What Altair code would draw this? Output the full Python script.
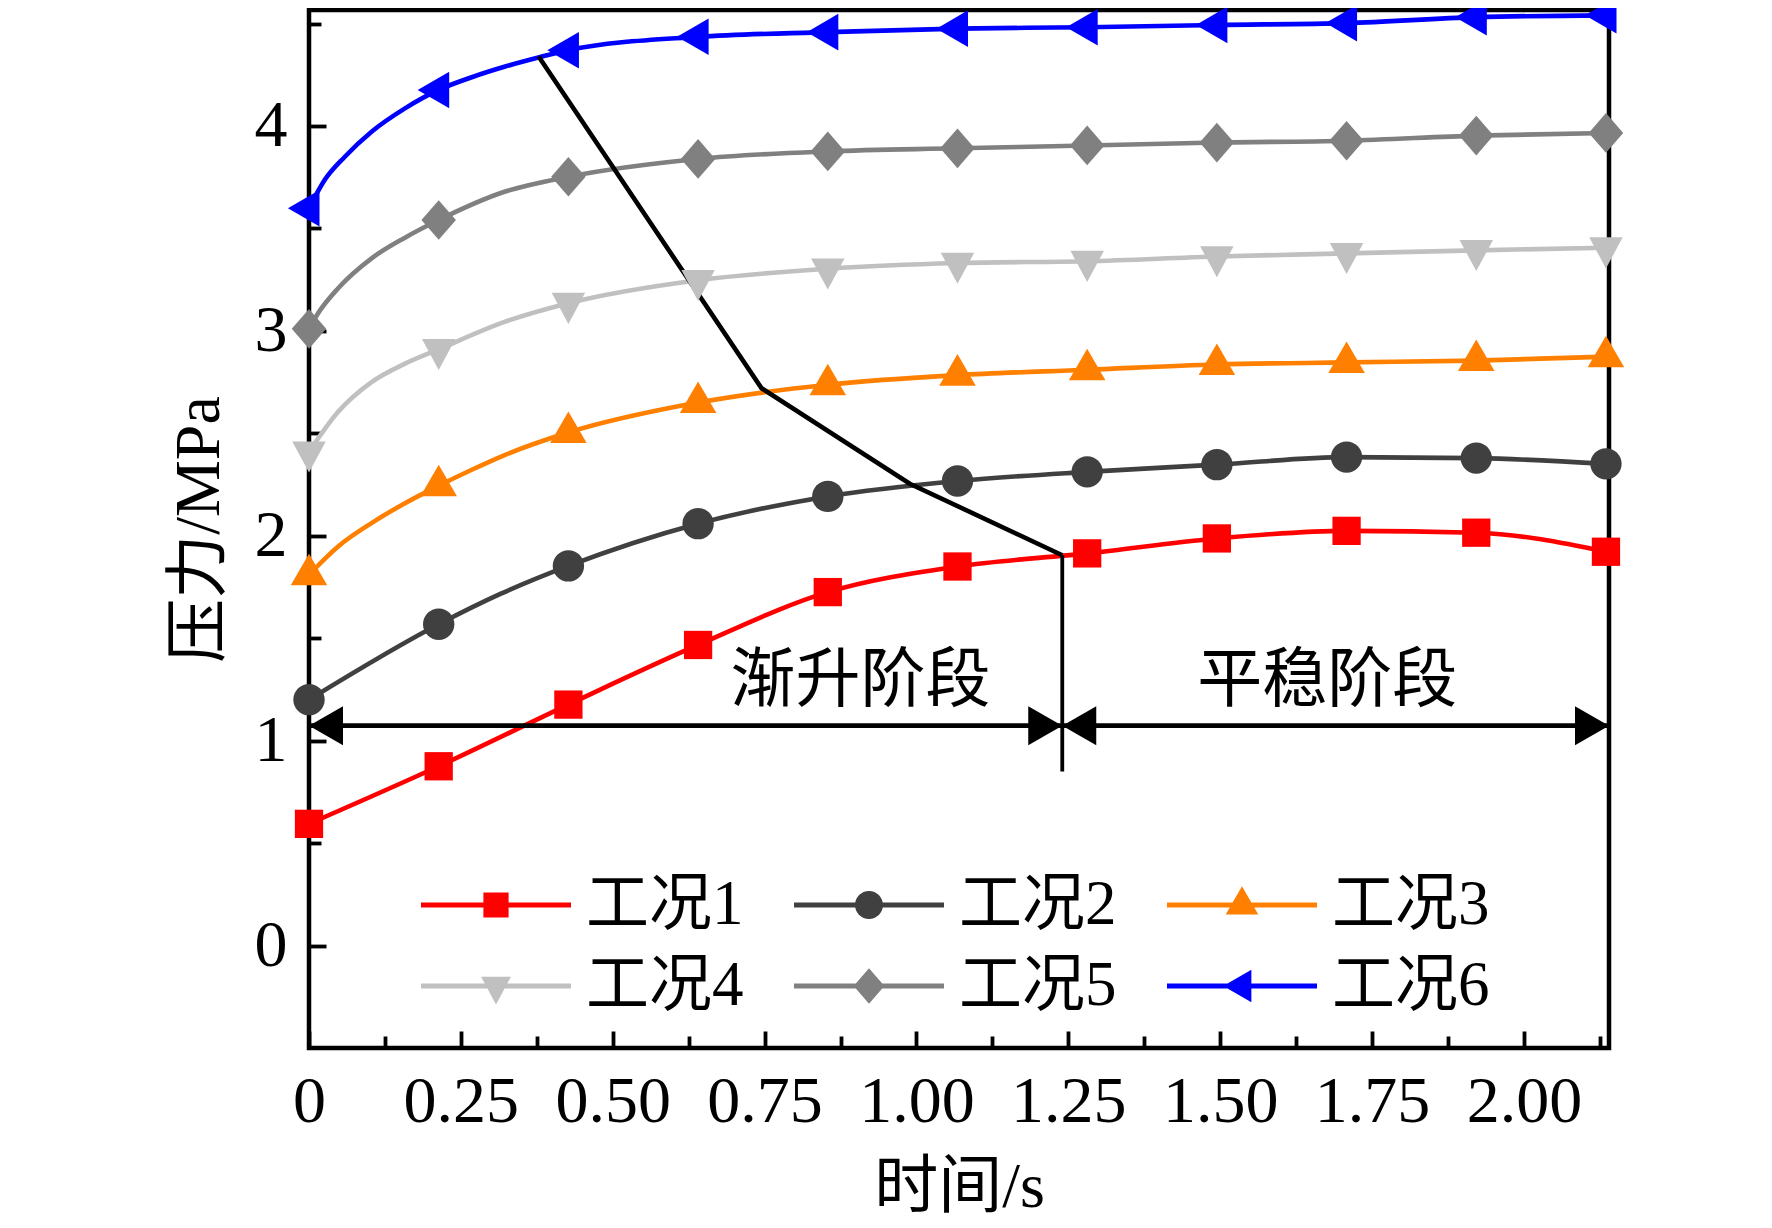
import altair as alt
import pandas as pd

# ---------------- data ----------------
SERIES = ["工况1", "工况2", "工况3", "工况4", "工况5", "工况6"]
COLORS = ["#FF0000", "#404040", "#FF8000", "#C0C0C0", "#808080", "#0000FF"]

T_MARK = [0, 0.2135, 0.427, 0.6405, 0.854, 1.0675, 1.281, 1.4945, 1.708, 1.9215, 2.135]
P1 = [0.594, 0.875, 1.176, 1.467, 1.725, 1.850, 1.914, 1.987, 2.024, 2.015, 1.922]
P2 = [1.200, 1.568, 1.853, 2.059, 2.192, 2.267, 2.312, 2.347, 2.384, 2.379, 2.351]
P3 = [1.810, 2.244, 2.504, 2.650, 2.737, 2.784, 2.810, 2.836, 2.846, 2.855, 2.874]
P4 = [2.410, 2.910, 3.135, 3.247, 3.303, 3.331, 3.340, 3.363, 3.378, 3.393, 3.406]
P5 = [3.010, 3.541, 3.752, 3.839, 3.876, 3.891, 3.905, 3.919, 3.928, 3.953, 3.966]
P6 = [3.598, 4.176, 4.370, 4.435, 4.458, 4.475, 4.482, 4.493, 4.502, 4.531, 4.540]
P_MARK = [P1, P2, P3, P4, P5, P6]

# extra points read along the curves between markers
T_EXTRA = [[],
           [0.315],
           [0.048, 0.103, 0.158, 0.268, 0.323],
           [0.048, 0.103, 0.158, 0.323],
           [0.015, 0.048, 0.103, 0.158, 0.323],
           [0.026, 0.059, 0.103, 0.158, 0.268, 0.323, 0.376]]
P_EXTRA = [[],
           [1.716],
           [1.948, 2.062, 2.159, 2.322, 2.395],
           [2.605, 2.750, 2.840, 3.045],
           [3.086, 3.208, 3.354, 3.455, 3.680],
           [3.737, 3.850, 3.972, 4.086, 4.238, 4.290, 4.333]]

BOUND_T = [0.378, 0.745, 0.989, 1.240]
BOUND_P = [4.339, 2.720, 2.254, 1.905]
SPLIT_T = 1.240
SPLIT_P = [0.850, 1.905]
ARROW_P = 1.073
T_END = 2.14
STAGE_TEXT = ["渐升阶段", "平稳阶段"]
STAGE_T = [0.908, 1.676]
STAGE_P = [1.293, 1.293]

X_TICKS = [0, 0.25, 0.5, 0.75, 1.0, 1.25, 1.5, 1.75, 2.0]
X_MINOR = [0.125, 0.375, 0.625, 0.875, 1.125, 1.375, 1.625, 1.875, 2.125]
Y_TICKS = [0, 1, 2, 3, 4]
Y_MINOR = [0.5, 1.5, 2.5, 3.5, 4.5]

# ---------------- styles ----------------
W, H = 1300, 1038
SERIF = "Liberation Serif"
MIXED = "Liberation Serif, Noto Sans CJK SC"

# all polygons wound the same way (positive area in screen coords)
SHAPE_PTS = {
    "square": [(-0.82, -0.82), (0.82, -0.82), (0.82, 0.82), (-0.82, 0.82)],
    "tri_up": [(0, -1.22), (1.06, 0.61), (-1.06, 0.61)],
    "tri_down": [(0, 1.2), (-0.97, -0.6), (0.97, -0.6)],
    "diamond": [(0, -1.15), (1.0, 0), (0, 1.15), (-1.0, 0)],
    "tri_left": [(-1.22, 0), (0.61, -1.06), (0.61, 1.06)],
}
SHAPE_ORDER = ["square", "circle", "tri_up", "tri_down", "diamond", "tri_left"]


def poly(pts, k):
    return "M" + "L".join(f"{x * k:.4f},{y * k:.4f}" for x, y in pts) + "Z"


def circ(r):
    return (f"M{-r:.4f},0A{r:.4f},{r:.4f} 0 1,1 {r:.4f},0"
            f"A{r:.4f},{r:.4f} 0 1,1 {-r:.4f},0Z")


def marker_path(name, k):
    if name == "circle":
        return circ(0.91 * k)
    return poly(SHAPE_PTS[name], k)


MARK_PATHS = [marker_path(n, 1.0) for n in SHAPE_ORDER]
LEG_BAR = "M-1,-0.034H1V0.034H-1Z"
LEG_PATHS = [LEG_BAR + marker_path(n, 0.205) for n in SHAPE_ORDER]
HEAD_LEFT = "M0,0L2,-1.15L2,1.15Z"
HEAD_RIGHT = "M0,0L-2,-1.15L-2,1.15Z"

# ---------------- tables ----------------
mk_rows, ln_rows = [], []
for s, ps, tx, px in zip(SERIES, P_MARK, T_EXTRA, P_EXTRA):
    for t, p in zip(T_MARK, ps):
        mk_rows.append({"series": s, "t": t, "p": p})
        ln_rows.append({"series": s, "t": t, "p": p})
    for t, p in zip(tx, px):
        ln_rows.append({"series": s, "t": t, "p": p})
markers = pd.DataFrame(mk_rows)
lines = pd.DataFrame(ln_rows).sort_values(["series", "t"])
bound = pd.DataFrame({"t": BOUND_T, "p": BOUND_P})
split = pd.DataFrame({"t": [SPLIT_T], "p": [SPLIT_P[0]], "p2": [SPLIT_P[1]]})
arrow = pd.DataFrame({"t": [0.0], "t2": [T_END], "p": [ARROW_P]})
heads_l = pd.DataFrame({"t": [0.0, SPLIT_T], "p": [ARROW_P, ARROW_P]})
heads_r = pd.DataFrame({"t": [SPLIT_T, T_END], "p": [ARROW_P, ARROW_P]})
stages = pd.DataFrame({"label": STAGE_TEXT, "t": STAGE_T, "p": STAGE_P})
legend_df = pd.DataFrame({"series": SERIES, "t": [1.0] * 6, "p": [1.0] * 6})

xs = alt.Scale(domain=[0, T_END], nice=False, zero=False)
ys = alt.Scale(domain=[-0.5, 4.566], nice=False, zero=False)

x_main = alt.Axis(orient="bottom", values=X_TICKS,
                  labelExpr="datum.value == 0 ? '0' : format(datum.value, '.2f')",
                  labelFont=SERIF, labelFontSize=66, labelColor="black",
                  labelPadding=21, labelFlush=False, labelOverlap=False,
                  ticks=False, domain=False, grid=False,
                  title="时间/s", titleFont=MIXED, titleFontSize=64,
                  titleFontWeight="normal", titleColor="black", titlePadding=21)
y_main = alt.Axis(orient="left", values=Y_TICKS, format="d",
                  labelFont=SERIF, labelFontSize=66, labelColor="black",
                  labelPadding=22, labelOverlap=False,
                  ticks=False, domain=False, grid=False,
                  title="压力/MPa", titleFont=MIXED, titleFontSize=64,
                  titleFontWeight="normal", titleColor="black", titlePadding=23)
x_major = alt.Axis(orient="top", offset=-H, values=X_TICKS, labels=False,
                   tickSize=17, tickWidth=3.8, tickColor="black",
                   domain=False, grid=False, title=None)
y_major = alt.Axis(orient="right", offset=-W, values=Y_TICKS, labels=False,
                   tickSize=17, tickWidth=3.8, tickColor="black",
                   domain=False, grid=False, title=None)
x_minor = alt.Axis(orient="top", offset=-H, values=X_MINOR, labels=False,
                   tickSize=12, tickWidth=3.8, tickColor="black",
                   domain=False, grid=False, title=None)
y_minor = alt.Axis(orient="right", offset=-W, values=Y_MINOR, labels=False,
                   tickSize=12, tickWidth=3.8, tickColor="black",
                   domain=False, grid=False, title=None)

line_layers, point_layers = [], []
for i, (s, c, shp) in enumerate(zip(SERIES, COLORS, MARK_PATHS)):
    line_layers.append(
        alt.Chart(lines).transform_filter(alt.datum.series == s)
        .mark_line(interpolate="monotone", strokeWidth=4.6, color=c)
        .encode(
            x=alt.X("t:Q", scale=xs, axis=x_main if i == 0 else None),
            y=alt.Y("p:Q", scale=ys, axis=y_main if i == 0 else None),
        )
    )
    point_layers.append(
        alt.Chart(markers).transform_filter(alt.datum.series == s)
        .mark_point(filled=True, size=1190, opacity=1, shape=shp, color=c)
        .encode(
            x=alt.X("t:Q", scale=xs, axis=x_major if i == 0 else None),
            y=alt.Y("p:Q", scale=ys, axis=y_major if i == 0 else None),
        )
    )

bound_layer = alt.Chart(bound).mark_line(color="black", strokeWidth=4.6).encode(
    x=alt.X("t:Q", scale=xs, axis=x_minor),
    y=alt.Y("p:Q", scale=ys, axis=y_minor),
)

split_layer = alt.Chart(split).mark_rule(color="black", strokeWidth=3.8).encode(
    x=alt.X("t:Q", scale=xs, axis=None),
    y=alt.Y("p:Q", scale=ys, axis=None),
    y2="p2:Q",
)

arrow_layer = alt.Chart(arrow).mark_rule(color="black", strokeWidth=4.8).encode(
    x=alt.X("t:Q", scale=xs, axis=None),
    x2="t2:Q",
    y=alt.Y("p:Q", scale=ys, axis=None),
)

head_l_layer = alt.Chart(heads_l).mark_point(shape=HEAD_LEFT, size=1156, filled=True,
                                             color="black", opacity=1).encode(
    x=alt.X("t:Q", scale=xs, axis=None),
    y=alt.Y("p:Q", scale=ys, axis=None),
)
head_r_layer = alt.Chart(heads_r).mark_point(shape=HEAD_RIGHT, size=1156, filled=True,
                                             color="black", opacity=1).encode(
    x=alt.X("t:Q", scale=xs, axis=None),
    y=alt.Y("p:Q", scale=ys, axis=None),
)

text_layer = alt.Chart(stages).mark_text(font=MIXED, fontSize=65, color="black",
                                         align="center", baseline="middle").encode(
    x=alt.X("t:Q", scale=xs, axis=None),
    y=alt.Y("p:Q", scale=ys, axis=None),
    text="label:N",
)

leg = alt.Legend(title=None, orient="none", direction="horizontal",
                 legendX=112, legendY=864, columns=3,
                 columnPadding=50, rowPadding=18, clipHeight=62,
                 symbolSize=22500, symbolStrokeWidth=0, symbolOpacity=1,
                 labelFont=MIXED, labelFontSize=63, labelColor="black",
                 labelOffset=15, labelLimit=600, padding=0)

legend_layer = alt.Chart(legend_df).mark_point(filled=True, opacity=0, size=10).encode(
    x=alt.X("t:Q", scale=xs, axis=None),
    y=alt.Y("p:Q", scale=ys, axis=None),
    color=alt.Color("series:N", scale=alt.Scale(domain=SERIES, range=COLORS), legend=leg),
    shape=alt.Shape("series:N", scale=alt.Scale(domain=SERIES, range=LEG_PATHS), legend=leg),
)

chart = alt.layer(
    *line_layers, bound_layer, split_layer, arrow_layer, head_l_layer, head_r_layer,
    *point_layers, text_layer, legend_layer,
).resolve_axis(
    x="independent", y="independent"
).properties(
    width=W, height=H,
    autosize=alt.AutoSizeParams(type="none"),
    padding={"left": 301, "top": 2, "right": 150, "bottom": 172},
    background="white",
).configure_view(
    stroke="black", strokeWidth=4.5, fill="white"
)

chart.save("out.html", embed_options={"renderer": "svg", "actions": False})
